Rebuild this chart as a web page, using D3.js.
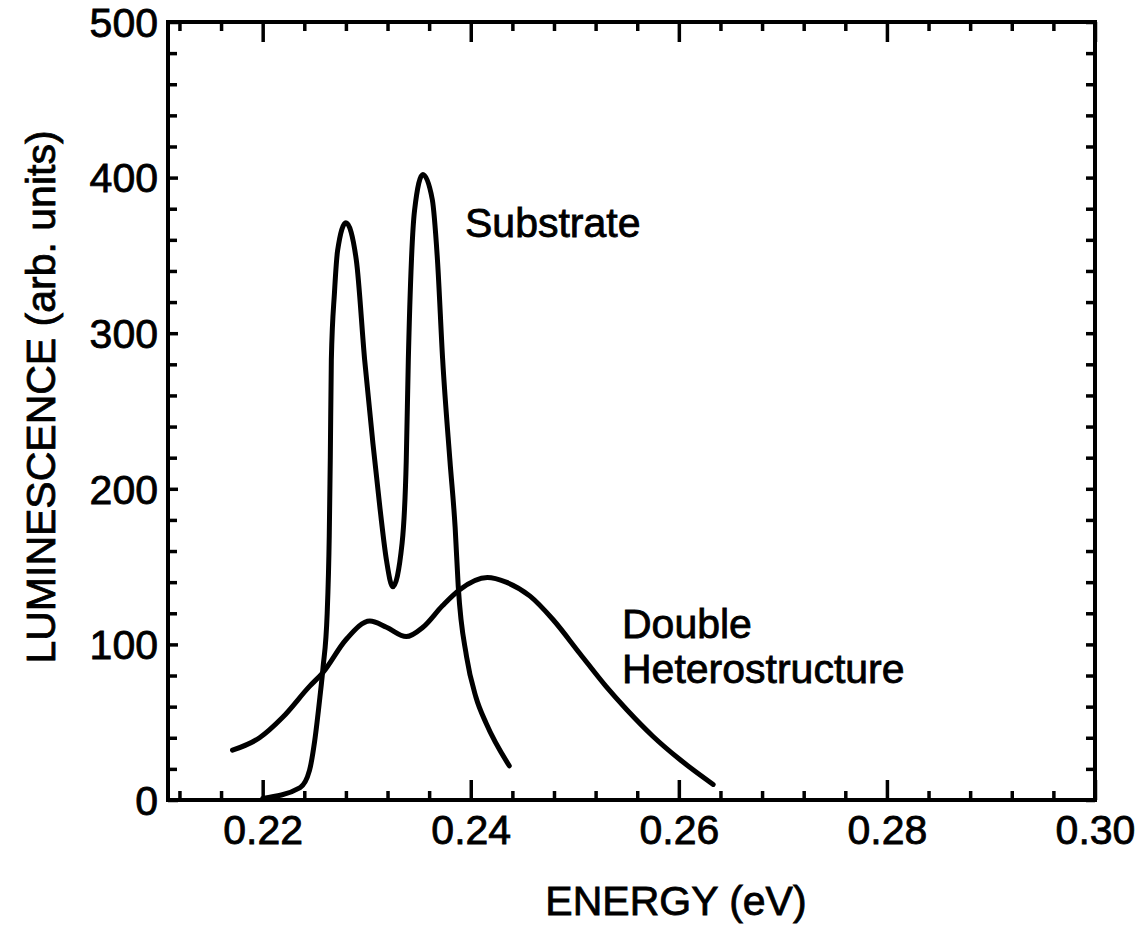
<!DOCTYPE html>
<html>
<head>
<meta charset="utf-8">
<script src="https://cdn.jsdelivr.net/npm/d3@7"></script>
<style>
  body { margin: 0; background: #fff; }
  svg text { font-family: "Liberation Sans", Arial, Helvetica, sans-serif; fill: #000; stroke: #000; stroke-width: 0.8px; }
</style>
</head>
<body>
<svg id="chart" width="1144" height="926"></svg>
<script>
// energy (eV) / luminescence (arb. units)
const substrateE = [0.2200, 0.2236, 0.2245, 0.2250, 0.2255, 0.2258, 0.2262, 0.2264, 0.2265, 0.2266,
  0.2269, 0.2272, 0.2280, 0.2290, 0.2298, 0.2306, 0.2313, 0.2319, 0.2325, 0.2334, 0.2338, 0.2340,
  0.2343, 0.2346, 0.2354, 0.2363, 0.2368, 0.2373, 0.2380, 0.2385, 0.2388, 0.2396, 0.2405, 0.2415, 0.2437];
const substrateL = [1, 8, 19, 38, 66, 85, 120, 170, 220, 283,
  326, 353, 371, 347, 283, 229, 186, 154, 137, 165, 218, 283,
  347, 379, 402, 386, 347, 283, 218, 175, 137, 92, 66, 49, 22];

const dhE = [0.2171, 0.2197, 0.2219, 0.2245, 0.2258, 0.2280, 0.2303, 0.2319, 0.2338, 0.2354, 0.2373,
  0.2389, 0.2416, 0.2434, 0.2457, 0.2479, 0.2505, 0.2530, 0.2550, 0.2575, 0.2601, 0.2633];
const dhL = [32, 40, 53, 73, 82, 103, 115, 111, 105, 111, 125,
  135, 143, 140, 131, 116, 94, 73, 58, 41, 26, 10];

const xMajor = [0.22, 0.24, 0.26, 0.28, 0.30];
const xMinor = [0.212, 0.216, 0.224, 0.228, 0.232, 0.236, 0.244, 0.248, 0.252, 0.256,
  0.264, 0.268, 0.272, 0.276, 0.284, 0.288, 0.292, 0.296];
const yMajor = [0, 100, 200, 300, 400, 500];
const yMinor = [20, 40, 60, 80, 120, 140, 160, 180, 220, 240, 260, 280, 320, 340, 360, 380, 420, 440, 460, 480];

const margin = {top: 22, right: 49, bottom: 126, left: 168};
const width = 1144, height = 926;
const svg = d3.select("#chart");

const x = d3.scaleLinear().domain([0.2109, 0.30]).range([margin.left, width - margin.right]);
const y = d3.scaleLinear().domain([0, 500]).range([height - margin.bottom, margin.top]);

const fs = 41;

function styleAxis(g) {
  g.select(".domain").remove();
  g.selectAll(".tick line").attr("stroke", "#000").attr("stroke-width", 3.5);
  g.selectAll(".tick text").attr("font-size", fs).attr("font-family", null).attr("fill", "#000");
}

// bottom
svg.append("g").attr("transform", `translate(0,${y(0)})`)
  .call(d3.axisBottom(x).tickValues(xMajor).tickSizeInner(-20).tickSizeOuter(0).tickPadding(15)
    .tickFormat(d3.format(".2f")))
  .call(styleAxis);
svg.append("g").attr("transform", `translate(0,${y(0)})`)
  .call(d3.axisBottom(x).tickValues(xMinor).tickSizeInner(-9).tickSizeOuter(0).tickFormat(""))
  .call(styleAxis);
// top
svg.append("g").attr("transform", `translate(0,${y(500)})`)
  .call(d3.axisTop(x).tickValues(xMajor).tickSizeInner(-20).tickSizeOuter(0).tickFormat(""))
  .call(styleAxis);
svg.append("g").attr("transform", `translate(0,${y(500)})`)
  .call(d3.axisTop(x).tickValues(xMinor).tickSizeInner(-9).tickSizeOuter(0).tickFormat(""))
  .call(styleAxis);
// left
svg.append("g").attr("transform", `translate(${x.range()[0]},0)`)
  .call(d3.axisLeft(y).tickValues(yMajor).tickSizeInner(-10).tickSizeOuter(0).tickPadding(10)
    .tickFormat(d3.format("d")))
  .call(styleAxis)
  .call(g => g.selectAll(".tick text").attr("dy", "0.35em"));
svg.append("g").attr("transform", `translate(${x.range()[0]},0)`)
  .call(d3.axisLeft(y).tickValues(yMinor).tickSizeInner(-9).tickSizeOuter(0).tickFormat(""))
  .call(styleAxis);
// right
svg.append("g").attr("transform", `translate(${x.range()[1]},0)`)
  .call(d3.axisRight(y).tickValues(yMajor.concat(yMinor)).tickSizeInner(-9).tickSizeOuter(0).tickFormat(""))
  .call(styleAxis);

// frame
svg.append("rect")
  .attr("x", x.range()[0]).attr("y", y(500))
  .attr("width", x.range()[1] - x.range()[0]).attr("height", y(0) - y(500))
  .attr("fill", "none").attr("stroke", "#000").attr("stroke-width", 4);

const line = d3.line()
  .x(d => x(d[0])).y(d => y(d[1]))
  .curve(d3.curveMonotoneX);

svg.append("path")
  .datum(d3.zip(substrateE, substrateL))
  .attr("d", line)
  .attr("fill", "none").attr("stroke", "#000").attr("stroke-width", 5)
  .attr("stroke-linecap", "round").attr("stroke-linejoin", "round");

svg.append("path")
  .datum(d3.zip(dhE, dhL))
  .attr("d", line)
  .attr("fill", "none").attr("stroke", "#000").attr("stroke-width", 5)
  .attr("stroke-linecap", "round").attr("stroke-linejoin", "round");

// labels
svg.append("text").attr("x", 465).attr("y", 237).attr("font-size", fs).text("Substrate");
svg.append("text").attr("x", 622).attr("y", 638).attr("font-size", fs).text("Double");
svg.append("text").attr("x", 622).attr("y", 683).attr("font-size", fs).text("Heterostructure");

svg.append("text")
  .attr("x", 676).attr("y", 915)
  .attr("text-anchor", "middle").attr("font-size", fs)
  .text("ENERGY (eV)");

svg.append("text")
  .attr("transform", "translate(55,397) rotate(-90)")
  .attr("text-anchor", "middle").attr("font-size", fs)
  .text("LUMINESCENCE (arb. units)");
</script>
</body>
</html>
